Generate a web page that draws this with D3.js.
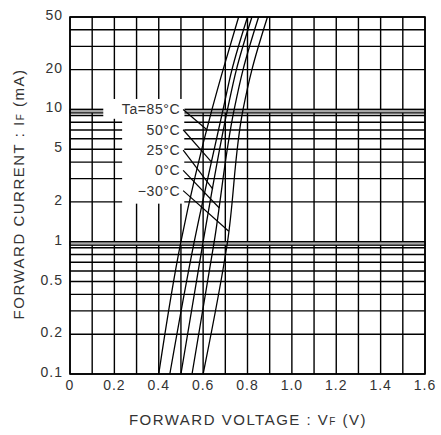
<!DOCTYPE html>
<html>
<head>
<meta charset="utf-8">
<script src="https://cdn.jsdelivr.net/npm/d3@7"></script>
<style>
  body { margin: 0; background: #fff; }
  text { font-family: "Liberation Sans", Arial, sans-serif; }
</style>
</head>
<body>
<div id="chart"></div>
<script>
// 資料 (讀圖估計)
const currents = [0.1, 1, 10, 20, 50]            // mA
const vf85 = [0.40, 0.50, 0.64, 0.69, 0.76]
const vf50 = [0.45, 0.56, 0.69, 0.73, 0.80]
const vf25 = [0.50, 0.60, 0.71, 0.75, 0.82]
const vf0 = [0.55, 0.65, 0.74, 0.78, 0.85]
const vfm30 = [0.60, 0.71, 0.78, 0.82, 0.89]
const tempLabels = ['Ta=85°C', '50°C', '25°C', '0°C', '−30°C']
const xTicks = [0, 0.2, 0.4, 0.6, 0.8, 1.0, 1.2, 1.4, 1.6]
const yTicks = [0.1, 0.2, 0.5, 1, 2, 5, 10, 20, 50]

function drawChart(){
        const width = 441, height = 435

        const svg = d3.select('#chart')
                        .append('svg')
                        .attr('width', width)
                        .attr('height', height)

        const xScale = d3.scaleLinear()
                        .domain([0, 1.6])
                        .range([70, 425])
        const yScale = d3.scaleLog()
                        .domain([0.1, 50])
                        .range([374, 17])

        // 格線
        const vLines = d3.range(0, 17).map(i => i / 10)
        const hLines = [].concat(
                d3.range(1, 10).map(i => i / 10),
                d3.range(1, 10),
                [10, 20, 30, 40, 50])

        const grid = svg.append('g')
        grid.selectAll('.v')
                .data(vLines)
                .join('line')
                .attr('x1', d => xScale(d)).attr('x2', d => xScale(d))
                .attr('y1', yScale(50)).attr('y2', yScale(0.1))
                .attr('stroke', '#000').attr('stroke-width', 1.4)
        grid.selectAll('.h')
                .data(hLines)
                .join('line')
                .attr('x1', xScale(0)).attr('x2', xScale(1.6))
                .attr('y1', d => yScale(d)).attr('y2', d => yScale(d))
                .attr('stroke', '#000').attr('stroke-width', 1.4)

        // 1mA、10mA 雙線
        grid.selectAll('.decade')
                .data([1, 10])
                .join('rect')
                .attr('x', xScale(0))
                .attr('y', d => yScale(d))
                .attr('width', xScale(1.6) - xScale(0))
                .attr('height', 3.5)
                .attr('fill', '#aaa')
                .attr('stroke', '#000')
                .attr('stroke-width', 1.2)

        // 標籤區塊的白底
        svg.append('rect')
                .attr('x', xScale(0.15)).attr('y', yScale(12))
                .attr('width', xScale(0.515) - xScale(0.15))
                .attr('height', yScale(8.5) - yScale(12))
                .attr('fill', '#fff')
        svg.append('rect')
                .attr('x', xScale(0.235)).attr('y', yScale(12))
                .attr('width', xScale(0.515) - xScale(0.235))
                .attr('height', yScale(1.94) - yScale(12))
                .attr('fill', '#fff')

        // 曲線
        const series = [vf85, vf50, vf25, vf0, vfm30]
        const line = d3.line()
                .x((d, i) => xScale(d))
                .y((d, i) => yScale(currents[i]))
                .curve(d3.curveMonotoneY)
        svg.selectAll('.curve')
                .data(series)
                .join('path')
                .attr('fill', 'none')
                .attr('stroke', '#000')
                .attr('stroke-width', 1.3)
                .attr('d', d => line(d))

        // 溫度標籤 + 引線
        const leaderAt = [7, 4, 2.5, 1.8, 1.2]
        const labelY = i => yScale(10) + i * 20.3
        series.forEach((s, i) => {
                const vAt = d3.scaleLog().domain(currents).range(s)
                svg.append('line')
                        .attr('x1', xScale(0.51)).attr('y1', labelY(i))
                        .attr('x2', xScale(vAt(leaderAt[i]))).attr('y2', yScale(leaderAt[i]))
                        .attr('stroke', '#000').attr('stroke-width', 1.2)
                svg.append('text')
                        .attr('x', xScale(0.497))
                        .attr('y', labelY(i) + 5)
                        .attr('text-anchor', 'end')
                        .attr('font-size', 14)
                        .attr('letter-spacing', 0.6)
                        .attr('fill', '#333')
                        .text(tempLabels[i])
        })

        // 外框
        svg.append('rect')
                .attr('x', xScale(0)).attr('y', yScale(50))
                .attr('width', xScale(1.6) - xScale(0))
                .attr('height', yScale(0.1) - yScale(50))
                .attr('fill', 'none')
                .attr('stroke', '#000')
                .attr('stroke-width', 1.6)

        // 刻度文字
        svg.selectAll('.xt')
                .data(xTicks)
                .join('text')
                .attr('x', d => xScale(d))
                .attr('y', 390)
                .attr('text-anchor', 'middle')
                .attr('font-size', 14)
                .attr('letter-spacing', 1)
                .attr('fill', '#333')
                .text(d => d === 0 ? '0' : d.toFixed(1))
        svg.selectAll('.yt')
                .data(yTicks)
                .join('text')
                .attr('x', 63)
                .attr('y', d => yScale(d) + 3)
                .attr('text-anchor', 'end')
                .attr('font-size', 14)
                .attr('letter-spacing', 1)
                .attr('fill', '#333')
                .text(d => d)

        // 軸標題
        const xTitle = svg.append('text')
                .attr('x', 248).attr('y', 425)
                .attr('text-anchor', 'middle')
                .attr('font-size', 15)
                .attr('letter-spacing', 1.5)
                .attr('fill', '#333')
        xTitle.append('tspan').text('FORWARD VOLTAGE : V')
        xTitle.append('tspan').attr('font-size', 10).text('F')
        xTitle.append('tspan').text(' (V)')

        const yTitle = svg.append('text')
                .attr('transform', 'translate(24,194) rotate(-90)')
                .attr('text-anchor', 'middle')
                .attr('font-size', 15)
                .attr('letter-spacing', 1.5)
                .attr('fill', '#333')
        yTitle.append('tspan').text('FORWARD CURRENT : I')
        yTitle.append('tspan').attr('font-size', 10).text('F')
        yTitle.append('tspan').text(' (mA)')
}
drawChart()
</script>
</body>
</html>
